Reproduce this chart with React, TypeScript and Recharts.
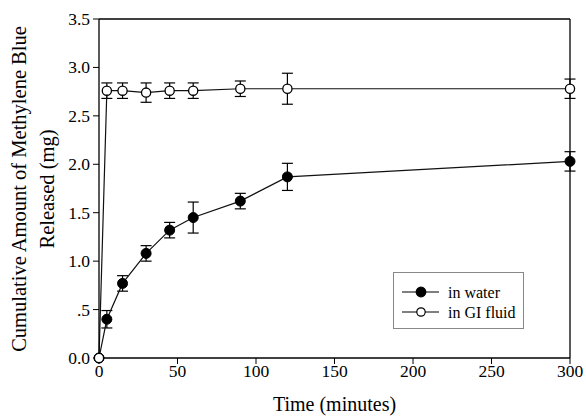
import { LineChart, Line, XAxis, YAxis, ErrorBar, ReferenceLine, Label } from "recharts";

const TIMES = [0, 5, 15, 30, 45, 60, 90, 120, 300];
const WATER = [0, 0.4, 0.77, 1.08, 1.32, 1.45, 1.62, 1.87, 2.03];
const WATER_ERR = [0, 0.09, 0.08, 0.08, 0.08, 0.16, 0.08, 0.14, 0.1];
const GI_FLUID = [0, 2.76, 2.76, 2.74, 2.76, 2.76, 2.78, 2.78, 2.78];
const GI_ERR = [0, 0.08, 0.08, 0.1, 0.08, 0.08, 0.08, 0.16, 0.1];
const X_TICKS = [0, 50, 100, 150, 200, 250, 300];
const Y_TICKS = [0, 0.5, 1, 1.5, 2, 2.5, 3, 3.5];

const FONT = "'Liberation Serif', 'Times New Roman', serif";

const rows = TIMES.map((t, i) => ({
  time: t,
  water: WATER[i],
  waterErr: WATER_ERR[i],
  gi: GI_FLUID[i],
  giErr: GI_ERR[i],
}));

const fmtY = (v: number) => (v === 0.5 ? ".5" : v.toFixed(1));

function XTick({ x, y, payload }: any) {
  return (
    <text x={x} y={y + 11} textAnchor="middle" fontFamily={FONT} fontSize={17.5} fill="#000">
      {payload.value}
    </text>
  );
}

function YTick({ x, y, payload }: any) {
  return (
    <text x={x - 1} y={y} textAnchor="end" dominantBaseline="central" fontFamily={FONT} fontSize={17.5} fill="#000">
      {fmtY(payload.value)}
    </text>
  );
}

function YTitle() {
  const cy = 189;
  return (
    <g fontFamily={FONT} fontSize={20.5} fill="#000">
      <text x={19} y={cy} textAnchor="middle" dominantBaseline="central" transform={`rotate(-90 19 ${cy})`}>
        Cumulative Amount of Methylene Blue
      </text>
      <text x={47} y={cy} textAnchor="middle" dominantBaseline="central" transform={`rotate(-90 47 ${cy})`}>
        Released (mg)
      </text>
    </g>
  );
}

function LegendBox() {
  const items = [
    { label: "in water", fill: "#000" },
    { label: "in GI fluid", fill: "#fff" },
  ];
  return (
    <div
      style={{
        position: "absolute",
        left: 393,
        top: 272,
        width: 131,
        height: 57,
        border: "1px solid #888",
        boxSizing: "border-box",
        background: "#fff",
      }}
    >
      <svg width={129} height={55} style={{ display: "block" }}>
        {items.map((it, i) => {
          const y = 19 + i * 20;
          return (
            <g key={it.label}>
              <line x1={8} x2={45} y1={y} y2={y} stroke="#000" strokeWidth={1.2} />
              <circle cx={27} cy={y} r={it.fill === "#000" ? 4.8 : 4.2} fill={it.fill} stroke="#000" strokeWidth={1.2} />
              <text x={54} y={y} dominantBaseline="central" fontFamily={FONT} fontSize={16} fill="#000">
                {it.label}
              </text>
            </g>
          );
        })}
      </svg>
    </div>
  );
}

export default function App() {
  return (
    <div style={{ position: "absolute", left: 0, top: 0, width: 586, height: 416, background: "#fff" }}>
      <LineChart width={586} height={416} data={rows} margin={{ top: 19, right: 16, bottom: 0, left: 0 }}>
        <XAxis
          dataKey="time"
          type="number"
          domain={[0, 300]}
          ticks={X_TICKS}
          tick={<XTick />}
          tickSize={6}
          axisLine={{ stroke: "#000", strokeWidth: 1.3 }}
          tickLine={{ stroke: "#000" }}
          height={58}
        >
          <Label value="Time (minutes)" position="insideBottom" offset={5} style={{ fontSize: 20, fill: "#000", fontFamily: FONT }} />
        </XAxis>
        <YAxis
          type="number"
          domain={[0, 3.5]}
          ticks={Y_TICKS}
          tick={<YTick />}
          tickSize={6}
          axisLine={{ stroke: "#000", strokeWidth: 1.3 }}
          tickLine={{ stroke: "#000" }}
          width={99}
        >
          <Label content={<YTitle />} />
        </YAxis>
        <ReferenceLine y={3.5} stroke="#000" strokeWidth={1.3} />
        <ReferenceLine x={300} stroke="#000" strokeWidth={1.3} />
        <Line
          dataKey="water"
          stroke="#111"
          strokeWidth={1.2}
          isAnimationActive={false}
          dot={{ r: 5, fill: "#000", stroke: "#000", strokeWidth: 1 }}
          activeDot={false}
        >
          <ErrorBar dataKey="waterErr" width={5.5} stroke="#000" strokeWidth={1.2} direction="y" />
        </Line>
        <Line
          dataKey="gi"
          stroke="#111"
          strokeWidth={1.2}
          isAnimationActive={false}
          dot={{ r: 4.6, fill: "#fff", stroke: "#000", strokeWidth: 1.3 }}
          activeDot={false}
        >
          <ErrorBar dataKey="giErr" width={5.5} stroke="#000" strokeWidth={1.2} direction="y" />
        </Line>
      </LineChart>
      <LegendBox />
    </div>
  );
}
